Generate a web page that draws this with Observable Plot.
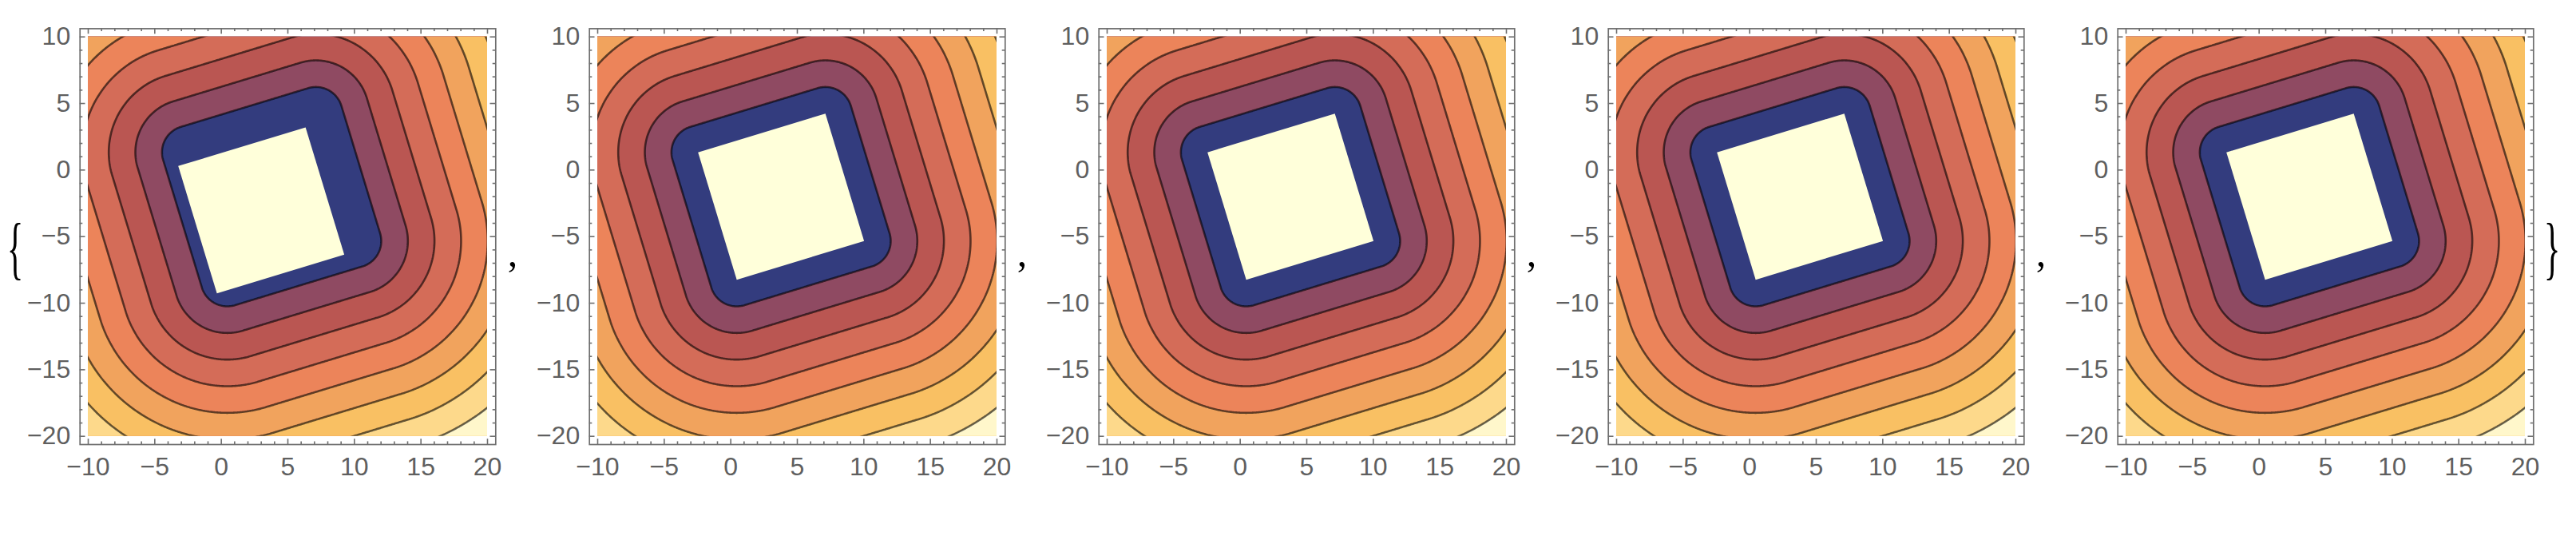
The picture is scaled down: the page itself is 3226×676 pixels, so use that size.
<!DOCTYPE html>
<html><head><meta charset="utf-8">
<script src="https://cdn.jsdelivr.net/npm/d3@7"></script>
<script src="https://cdn.jsdelivr.net/npm/@observablehq/plot@0.6"></script>
<style>
html,body{margin:0;padding:0;background:#fff;}
#wrap{position:relative;width:3226px;height:676px;overflow:hidden;background:#fff;}
.panel{position:absolute;top:0;width:638px;height:676px;}
#sym{position:absolute;left:0;top:0;}
</style></head><body><div id="wrap"></div>
<script>
// ---- data ----
const panelIndex = [0, 1, 2, 3, 4];
// light overlay square in each panel (centre, rotation in radians, side)
const squareCX = [3.0, 3.78, 3.78, 3.78, 3.78];
const squareCY = [-3.03, -2.0, -2.0, -2.0, -2.0];
const squareAngle = [0.295, 0.295, 0.295, 0.295, 0.295];
const squareSide = [10, 10, 10, 10, 10];
// square whose distance field is contoured (same in every panel)
const fieldCX = 3.78, fieldCY = -2.0, fieldAngle = 0.295, fieldSide = 10;
const bandLevels = [0, 2, 4, 6, 8, 10, 12, 14, 16];
const lineLevels = [2, 4, 6, 8, 10, 12, 14, 16];
const bandColors = ["#333c7e", "#8f4a62", "#ba5652", "#d46c58", "#ec845a", "#f1a35d", "#f9c063", "#fdd98b", "#fff7cb"];
const squareColor = "#ffffda";
const xTicks = [-10, -5, 0, 5, 10, 15, 20];
const yTicks = [-20, -15, -10, -5, 0, 5, 10];
const xMinorTicks = d3.range(-10, 21).filter(d => d % 5 !== 0);
const yMinorTicks = d3.range(-20, 11).filter(d => d % 5 !== 0);

// ---- styling ----
const UNIT = 500 / 30;           // px per data unit
const PAD = 10.3 / UNIT;         // frame sits outside the plot range
const MAJ = 6.8 / UNIT, MIN = 3.6 / UNIT;
const frameColor = "#6e6e6e", labelColor = "#5f5f5f";
const font = "Liberation Sans, Arial, sans-serif";
const fmt = d => d < 0 ? "\u2212" + Math.abs(d) : String(d);

function distanceTo(cx, cy, ang, side) {
  const c = Math.cos(ang), s = Math.sin(ang), h = side / 2;
  return (x, y) => {
    const dx = x - cx, dy = y - cy;
    const u = Math.abs(dx * c + dy * s) - h;
    const v = Math.abs(-dx * s + dy * c) - h;
    return Math.hypot(Math.max(u, 0), Math.max(v, 0));
  };
}
function corners(cx, cy, ang, side) {
  const c = Math.cos(ang), s = Math.sin(ang), h = side / 2;
  return [[-h, -h], [h, -h], [h, h], [-h, h], [-h, -h]]
    .map(([u, v]) => ({x: cx + u * c - v * s, y: cy + u * s + v * c}));
}
const field = distanceTo(fieldCX, fieldCY, fieldAngle, fieldSide);

function makePanel(i) {
  const tickStyle = {stroke: frameColor, strokeWidth: 1.6};
  return Plot.plot({
    width: 638, height: 676,
    marginLeft: 110, marginRight: 28, marginTop: 45.7, marginBottom: 130.3,
    x: {domain: [-10, 20], axis: null},
    y: {domain: [-20, 10], axis: null},
    color: {type: "threshold", domain: lineLevels, range: bandColors},
    style: {background: "transparent", overflow: "visible"},
    marks: [
      Plot.contour({fill: field, thresholds: bandLevels, x1: -10.6, x2: 20.6, y1: -20.6, y2: 10.6, pixelSize: 1, clip: true}),
      Plot.contour({value: field, thresholds: lineLevels, x1: -10.6, x2: 20.6, y1: -20.6, y2: 10.6, pixelSize: 1, clip: true,
        fill: "none", stroke: "black", strokeOpacity: 0.6, strokeWidth: 2.6}),
      Plot.line(corners(squareCX[i], squareCY[i], squareAngle[i], squareSide[i]), {x: "x", y: "y", fill: squareColor, stroke: "none"}),
      Plot.frame({inset: -10.3, stroke: frameColor, strokeWidth: 1.7}),
      // major ticks
      Plot.ruleX(xTicks, {x: d => d, y1: -20 - PAD, y2: -20 - PAD + MAJ, ...tickStyle}),
      Plot.ruleX(xTicks, {x: d => d, y1: 10 + PAD, y2: 10 + PAD - MAJ, ...tickStyle}),
      Plot.ruleY(yTicks, {y: d => d, x1: -10 - PAD, x2: -10 - PAD + MAJ, ...tickStyle}),
      Plot.ruleY(yTicks, {y: d => d, x1: 20 + PAD, x2: 20 + PAD - MAJ, ...tickStyle}),
      // minor ticks
      Plot.ruleX(xMinorTicks, {x: d => d, y1: -20 - PAD, y2: -20 - PAD + MIN, ...tickStyle}),
      Plot.ruleX(xMinorTicks, {x: d => d, y1: 10 + PAD, y2: 10 + PAD - MIN, ...tickStyle}),
      Plot.ruleY(yMinorTicks, {y: d => d, x1: -10 - PAD, x2: -10 - PAD + MIN, ...tickStyle}),
      Plot.ruleY(yMinorTicks, {y: d => d, x1: 20 + PAD, x2: 20 + PAD - MIN, ...tickStyle}),
      // tick labels
      Plot.text(xTicks, {x: d => d, y: -20 - PAD, text: fmt, dy: 16, lineAnchor: "top", textAnchor: "middle",
        fontSize: 32, fontFamily: font, fill: labelColor}),
      Plot.text(yTicks, {x: -10 - PAD, y: d => d, text: fmt, dx: -12, lineAnchor: "middle", textAnchor: "end",
        fontSize: 32, fontFamily: font, fill: labelColor})
    ]
  });
}

const wrap = document.getElementById("wrap");
for (const i of panelIndex) {
  const div = document.createElement("div");
  div.className = "panel";
  div.style.left = (i * 638) + "px";
  div.appendChild(makePanel(i));
  wrap.appendChild(div);
}
// list punctuation: braces and commas
const ns = "http://www.w3.org/2000/svg";
const svg = document.createElementNS(ns, "svg");
svg.setAttribute("id", "sym");
svg.setAttribute("width", 3226); svg.setAttribute("height", 676);
function sym(txt, x, y, size, sx) {
  const t = document.createElementNS(ns, "text");
  t.setAttribute("transform", `translate(${x},${y}) scale(${sx},1)`);
  t.setAttribute("font-family", "Liberation Serif, Times New Roman, serif");
  t.setAttribute("font-size", size);
  t.setAttribute("text-anchor", "middle");
  t.textContent = txt;
  svg.appendChild(t);
}
sym("{", 19, 339, 86, 0.5);
sym("}", 3196, 339, 86, 0.5);
for (let i = 0; i < 4; i++) sym(",", 642 + i * 638, 333, 50, 1);
wrap.appendChild(svg);
</script></body></html>
